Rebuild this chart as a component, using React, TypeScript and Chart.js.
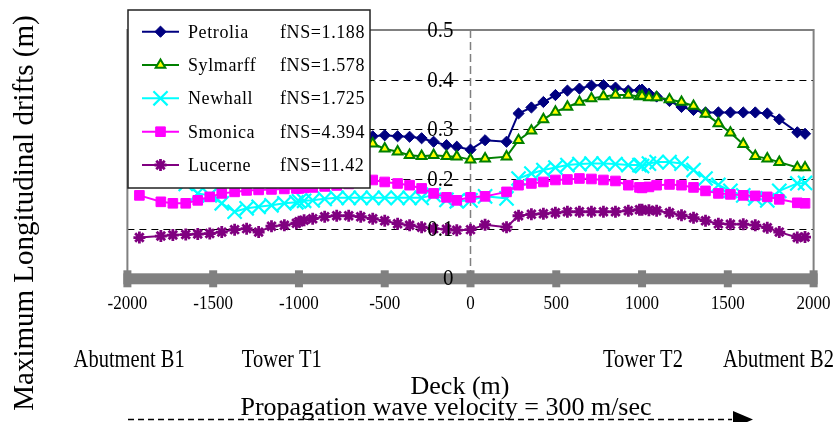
import React, { useEffect, useRef } from 'react';
import { Chart, registerables } from 'chart.js';
import { drawPoint } from 'chart.js/helpers';

Chart.register(...registerables);

// Deck positions (m)
const DECK_X = [-1930, -1805, -1735, -1660, -1590, -1520, -1450, -1375, -1305, -1235, -1160, -1085, -1015, -1000, -970, -920, -850, -780, -710, -640, -570, -500, -425, -355, -285, -215, -140, -80, 0, 85, 210, 280, 355, 425, 495, 565, 635, 705, 775, 845, 920, 985, 1000, 1040, 1085, 1160, 1230, 1300, 1370, 1445, 1515, 1590, 1660, 1730, 1800, 1905, 1950];

// Maximum longitudinal drifts (m); null = hidden behind the legend in the source
const PETROLIA = [null, null, null, null, null, null, null, null, null, null, null, null, null, null, null, null, null, null, null, 0.285, 0.286, 0.288, 0.286, 0.285, 0.282, 0.275, 0.268, 0.265, 0.259, 0.278, 0.275, 0.332, 0.344, 0.355, 0.369, 0.378, 0.382, 0.388, 0.389, 0.384, 0.378, 0.379, 0.380, 0.372, 0.366, 0.357, 0.345, 0.339, 0.334, 0.334, 0.334, 0.334, 0.334, 0.332, 0.320, 0.294, 0.291];
const SYLMARFF = [null, null, null, null, null, null, null, null, null, null, null, null, null, null, null, null, null, null, null, 0.282, 0.271, 0.261, 0.255, 0.248, 0.246, 0.248, 0.246, 0.245, 0.239, 0.241, 0.245, 0.278, 0.297, 0.320, 0.335, 0.345, 0.355, 0.362, 0.366, 0.369, 0.369, 0.366, 0.367, 0.364, 0.364, 0.360, 0.355, 0.347, 0.331, 0.312, 0.293, 0.270, 0.246, 0.241, 0.234, 0.223, 0.223];
const NEWHALL = [null, null, null, 0.190, 0.171, 0.167, 0.151, 0.134, 0.141, 0.144, 0.147, 0.151, 0.153, 0.155, 0.156, 0.157, 0.160, 0.162, 0.162, 0.162, 0.162, 0.162, 0.162, 0.162, 0.162, 0.168, 0.158, 0.155, 0.157, 0.165, 0.161, 0.201, 0.211, 0.218, 0.223, 0.228, 0.230, 0.231, 0.231, 0.230, 0.228, 0.228, 0.226, 0.231, 0.234, 0.234, 0.231, 0.218, 0.201, 0.188, 0.176, 0.167, 0.161, 0.157, 0.176, 0.191, 0.192];
const SMONICA = [0.167, 0.154, 0.151, 0.151, 0.157, 0.164, 0.171, 0.174, 0.177, 0.178, 0.179, 0.180, 0.181, 0.181, 0.182, 0.183, 0.185, 0.187, 0.190, 0.195, 0.198, 0.194, 0.191, 0.1875, 0.181, 0.171, 0.163, 0.157, 0.163, 0.165, 0.174, 0.1875, 0.191, 0.194, 0.198, 0.199, 0.201, 0.200, 0.198, 0.196, 0.1875, 0.183, 0.182, 0.184, 0.1875, 0.189, 0.1875, 0.183, 0.176, 0.171, 0.169, 0.167, 0.166, 0.164, 0.159, 0.152, 0.151];
const LUCERNE = [0.082, 0.085, 0.087, 0.088, 0.089, 0.090, 0.093, 0.098, 0.100, 0.093, 0.105, 0.107, 0.111, 0.114, 0.117, 0.120, 0.124, 0.126, 0.126, 0.124, 0.120, 0.116, 0.110, 0.107, 0.103, 0.100, 0.099, 0.097, 0.098, 0.108, 0.103, 0.126, 0.129, 0.130, 0.132, 0.134, 0.134, 0.134, 0.134, 0.134, 0.136, 0.138, 0.138, 0.137, 0.136, 0.132, 0.127, 0.122, 0.116, 0.110, 0.109, 0.109, 0.107, 0.102, 0.093, 0.082, 0.083];

const SERIES_NAMES = ['Petrolia', 'Sylmarff', 'Newhall', 'Smonica', 'Lucerne'];
const FNS_LABELS = ['fNS=1.188', 'fNS=1.578', 'fNS=1.725', 'fNS=4.394', 'fNS=11.42'];
const X_TICKS = [-2000, -1500, -1000, -500, 0, 500, 1000, 1500, 2000];
const Y_TICKS = [0, 0.1, 0.2, 0.3, 0.4, 0.5];
const Y_TICK_LABELS = ['0', '0.1', '0.2', '0.3', '0.4', '0.5'];
const LANDMARKS = ['Abutment B1', 'Tower T1', 'Tower T2', 'Abutment B2'];
const LANDMARK_X = [-1990, -1100, 1005, 1795];

const SERIF = '"Liberation Serif", "Times New Roman", serif';

function txt(ctx: CanvasRenderingContext2D, s: string, x: number, y: number, size: number, align: CanvasTextAlign = 'center', sy = 1) {
  ctx.save();
  ctx.translate(x, y);
  ctx.scale(1, sy);
  ctx.font = `${size}px ${SERIF}`;
  ctx.fillStyle = '#000';
  ctx.textAlign = align;
  ctx.textBaseline = 'alphabetic';
  ctx.fillText(s, 0, 0);
  ctx.restore();
}

const decor = {
  id: 'decor',
  beforeDatasetsDraw(chart: any) {
    const { ctx, chartArea: a, scales } = chart;
    const x = scales.x, y = scales.y;
    ctx.save();
    // dashed horizontal gridlines
    ctx.strokeStyle = '#000';
    ctx.lineWidth = 1;
    ctx.setLineDash([7, 5]);
    Y_TICKS.forEach((v) => {
      if (v === 0 || v === 0.5) return;
      const py = Math.round(y.getPixelForValue(v)) + 0.5;
      ctx.beginPath();
      ctx.moveTo(a.left, py);
      ctx.lineTo(a.right, py);
      ctx.stroke();
    });
    // dashed vertical axis at x = 0
    ctx.strokeStyle = '#808080';
    ctx.lineWidth = 1.5;
    ctx.setLineDash([8, 4]);
    const px0 = x.getPixelForValue(0);
    ctx.beginPath();
    ctx.moveTo(px0, a.top);
    ctx.lineTo(px0, a.bottom);
    ctx.stroke();
    ctx.setLineDash([]);
    // frame
    ctx.strokeStyle = '#808080';
    ctx.lineWidth = 2;
    ctx.beginPath();
    ctx.moveTo(a.left, a.bottom);
    ctx.lineTo(a.left, a.top);
    ctx.lineTo(a.right, a.top);
    ctx.lineTo(a.right, a.bottom);
    ctx.stroke();
    // thick x axis bar with square ticks
    const py0 = y.getPixelForValue(0);
    ctx.fillStyle = '#808080';
    ctx.fillRect(a.left - 4, py0 - 5, a.right - a.left + 8, 11);
    X_TICKS.forEach((t) => {
      const px = x.getPixelForValue(t);
      ctx.fillRect(px - 4, py0 - 8, 8, 17);
    });
    ctx.restore();
  },
  afterDatasetsDraw(chart: any) {
    const { ctx, scales } = chart;
    const x = scales.x, y = scales.y;
    ctx.save();
    const px0 = x.getPixelForValue(0);
    // y tick labels next to the central axis
    Y_TICKS.forEach((v, i) => {
      txt(ctx, Y_TICK_LABELS[i], px0 - 17, y.getPixelForValue(v) + 7, 21, 'right', 1.05);
    });
    // x tick labels
    X_TICKS.forEach((t) => {
      txt(ctx, String(t), x.getPixelForValue(t), 309, 17, 'center', 1.08);
    });
    // landmarks
    LANDMARKS.forEach((s, i) => {
      txt(ctx, s, x.getPixelForValue(LANDMARK_X[i]), 366.5, 20.5, 'center', 1.2);
    });
    // axis titles
    txt(ctx, 'Deck (m)', 460, 394, 26, 'center');
    txt(ctx, 'Propagation wave velocity = 300 m/sec', 240.5, 414.5, 26, 'left');
    ctx.save();
    ctx.translate(33, 213);
    ctx.rotate(-Math.PI / 2);
    ctx.font = `29px ${SERIF}`;
    ctx.fillStyle = '#000';
    ctx.textAlign = 'center';
    ctx.textBaseline = 'alphabetic';
    ctx.fillText('Maximum Longitudinal drifts (m)', 0, 0);
    ctx.restore();
    // propagation arrow
    ctx.strokeStyle = '#000';
    ctx.lineWidth = 1.5;
    ctx.setLineDash([6, 4]);
    ctx.beginPath();
    ctx.moveTo(128, 419.5);
    ctx.lineTo(732, 419.5);
    ctx.stroke();
    ctx.setLineDash([]);
    ctx.fillStyle = '#000';
    ctx.beginPath();
    ctx.moveTo(733, 411);
    ctx.lineTo(753, 419.5);
    ctx.lineTo(733, 428);
    ctx.closePath();
    ctx.fill();

    // legend box
    const L = 128, T = 10, R = 370, B = 188;
    ctx.fillStyle = '#fff';
    ctx.fillRect(L, T, R - L, B - T);
    ctx.strokeStyle = '#222';
    ctx.lineWidth = 1.5;
    ctx.strokeRect(L, T, R - L, B - T);
    const rows = [31.7, 65, 98.3, 131.7, 165];
    chart.data.datasets.forEach((ds: any, i: number) => {
      const ry = rows[i];
      ctx.strokeStyle = ds.borderColor;
      ctx.lineWidth = ds.borderWidth;
      ctx.beginPath();
      ctx.moveTo(142, ry);
      ctx.lineTo(179, ry);
      ctx.stroke();
      ctx.fillStyle = ds.pointBackgroundColor;
      ctx.strokeStyle = ds.pointBorderColor;
      ctx.lineWidth = ds.pointBorderWidth;
      drawPoint(ctx, { pointStyle: ds.pointStyle, radius: ds.pointRadius, rotation: 0, borderWidth: ds.pointBorderWidth }, 160.5, ry);
      ctx.save();
      (ctx as any).letterSpacing = '0.6px';
      txt(ctx, SERIES_NAMES[i], 188, ry + 6, 18, 'left');
      txt(ctx, FNS_LABELS[i], 280, ry + 6, 18, 'left');
      ctx.restore();
    });
    ctx.restore();
  },
};

function pts(vals: (number | null)[]) {
  return DECK_X.map((xv, i) => ({ x: xv, y: vals[i] }));
}

export default function App() {
  const ref = useRef<HTMLCanvasElement>(null);
  useEffect(() => {
    document.body.style.margin = '0';
    const canvas = ref.current!;
    const mk = (label: string, vals: (number | null)[], color: string, style: string, radius: number, bg: string, bw: number, order: number) => ({
      label,
      data: pts(vals),
      borderColor: color,
      borderWidth: 2,
      pointStyle: style,
      pointRadius: radius,
      pointBackgroundColor: bg,
      pointBorderColor: color,
      pointBorderWidth: bw,
      tension: 0,
      spanGaps: false,
      order,
    });
    const chart = new Chart(canvas, {
      type: 'line',
      data: {
        datasets: [
          mk(SERIES_NAMES[0], PETROLIA, '#000080', 'rectRot', 5.6, '#000080', 1, 5),
          mk(SERIES_NAMES[1], SYLMARFF, '#008000', 'triangle', 5.6, '#FFFF00', 2, 4),
          mk(SERIES_NAMES[2], NEWHALL, '#00FFFF', 'crossRot', 10, '#00FFFF', 2.2, 3),
          mk(SERIES_NAMES[3], SMONICA, '#FF00FF', 'rect', 6.8, '#FF00FF', 1, 2),
          mk(SERIES_NAMES[4], LUCERNE, '#800080', 'star', 6, '#800080', 2.8, 1),
        ] as any,
      },
      options: {
        animation: false,
        responsive: false,
        devicePixelRatio: 1,
        layout: { padding: { left: 127.4, right: 23.4, top: 30, bottom: 143.7 } },
        plugins: { legend: { display: false }, tooltip: { enabled: false } },
        scales: {
          x: { type: 'linear', min: -2000, max: 2000, display: false },
          y: { type: 'linear', min: 0, max: 0.5, display: false },
        },
      } as any,
      plugins: [decor],
    });
    return () => chart.destroy();
  }, []);
  return (
    <div style={{ width: 837, height: 422, background: '#fff' }}>
      <canvas ref={ref} width={837} height={422} style={{ display: 'block', width: 837, height: 422 }} />
    </div>
  );
}
